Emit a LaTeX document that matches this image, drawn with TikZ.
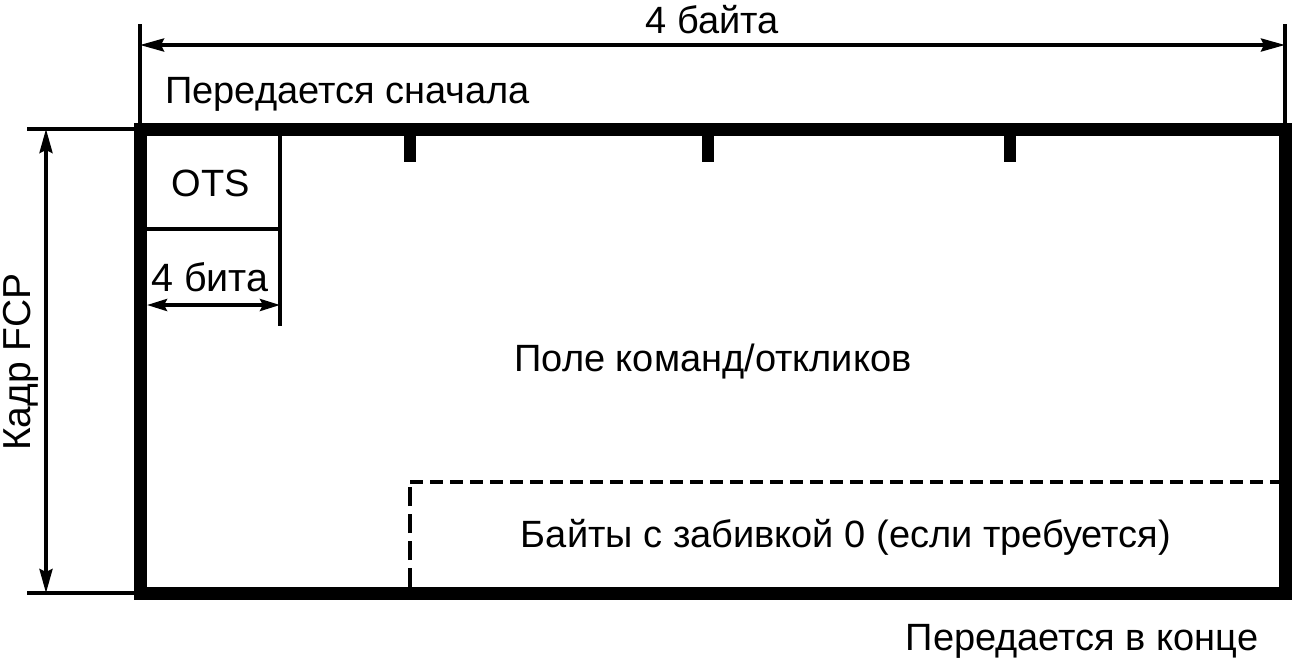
\documentclass[tikz,border=0pt]{standalone}
\usepackage{fontspec}
\setmainfont{Liberation Sans}
\usetikzlibrary{arrows.meta}
\begin{document}
\begin{tikzpicture}[x=1pt,y=-1pt,
  thinline/.style={line width=3.5pt},
  frame/.style={line width=13pt},
  dim/.style={line width=3.5pt,{Stealth[length=24pt,width=13pt,inset=3pt]}-{Stealth[length=24pt,width=13pt,inset=3pt]}},
  smalldim/.style={line width=3.5pt,{Stealth[length=20pt,width=12pt,inset=3pt]}-{Stealth[length=20pt,width=12pt,inset=3pt]}},
  lbl/.style={font=\fontsize{38}{44}\selectfont, inner sep=0pt},
  tick/.style={fill=black}]
\useasboundingbox (0,0) rectangle (1299,665);
% frame corners
\coordinate (TL) at (140,129);
\coordinate (TR) at (1285,129);
\coordinate (BL) at (140,593);
\coordinate (BR) at (1285,593);
\draw[frame] (TL) rectangle (BR);
% ticks
\fill[tick] (404,135) rectangle (416,162);
\fill[tick] (702,135) rectangle (714,162);
\fill[tick] (1004,135) rectangle (1016,162);
% top dimension
\coordinate (tl0) at (140,24);
\coordinate (tr0) at (1285,24);
\draw[thinline] (tl0) -- (TL);
\draw[thinline] (tr0) -- (TR);
\coordinate (da) at (140,45);
\coordinate (db) at (1285,45);
\draw[dim] (da) -- (db);
\node[lbl] (bytes) at (712,20) {4 байта};
\node[lbl, anchor=west] (first) at (165,94) {Передается сначала};
% left dimension
\coordinate (l1) at (27,129);
\coordinate (l1e) at (134,129);
\coordinate (l2) at (27,593);
\coordinate (l2e) at (134,593);
\draw[thinline] (l1) -- (l1e);
\draw[thinline] (l2) -- (l2e);
\coordinate (va) at (46,129);
\coordinate (vb) at (46,593);
\draw[dim] (va) -- (vb);
\node[lbl, font=\fontsize{39}{46}\selectfont, rotate=90] (fcp) at (21,362) {Кадр FCP};
% OTS
\coordinate (o1) at (280,135);
\coordinate (o2) at (280,326);
\draw[thinline] (o1) -- (o2);
\coordinate (h1) at (147,229);
\coordinate (h2) at (280,229);
\draw[thinline] (h1) -- (h2);
\node[lbl] (ots) at (211,183) {OTS};
\node[lbl, font=\fontsize{39.5}{46}\selectfont] (bits) at (210,277) {4 бита};
\coordinate (sa) at (147,305);
\coordinate (sb) at (280,305);
\draw[smalldim] (sa) -- (sb);
% main field
\node[lbl] (field) at (713,362) {Поле команд/откликов};
% padding
\coordinate (p1) at (410,587);
\coordinate (p2) at (410,482);
\coordinate (p3) at (1279,482);
\draw[thinline, dash pattern=on 19pt off 8pt] (p1) -- (p2);
\draw[thinline, dash pattern=on 13pt off 7pt] (p2) -- (p3);
\node[lbl] (pad) at (846,537) {Байты с забивкой 0 (если требуется)};
\node[lbl] (last) at (1082,641) {Передается в конце};
\end{tikzpicture}
\end{document}
